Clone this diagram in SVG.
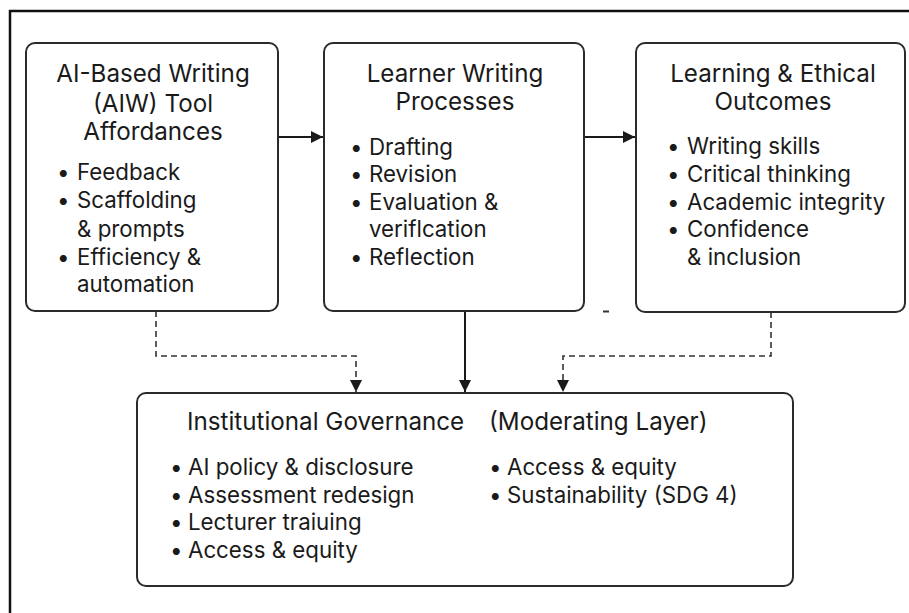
<svg xmlns="http://www.w3.org/2000/svg" width="909" height="613" viewBox="0 0 909 613">
  <defs>
    <marker id="arrow" viewBox="0 0 12 12" refX="12" refY="6" markerWidth="12" markerHeight="12" markerUnits="userSpaceOnUse" orient="auto">
      <path d="M0,0 L12,6 L0,12 Z" fill="#1a1a1a"/>
    </marker>
  </defs>
  <style>
    .frame { fill: none; stroke: #111; stroke-width: 2.5; }
    .box { fill: #fff; stroke: #2b2b2b; stroke-width: 2; }
    .title { font-family: Inter, "Liberation Sans", sans-serif; font-size: 24.2px; fill: #1a1a1a; }
    .item { font-family: Inter, "Liberation Sans", sans-serif; font-size: 22.3px; fill: #1a1a1a; }
    .mid { text-anchor: middle; }
    .solid { fill: none; stroke: #1a1a1a; stroke-width: 2; }
    .dashed { fill: none; stroke: #333; stroke-width: 1.6; stroke-dasharray: 6 4; }
  </style>
  <rect width="909" height="613" fill="#fff"/>
  <!-- outer frame, open to the right and bottom -->
  <rect class="frame" x="10" y="11" width="920" height="620"/>

  <g id="connectors">
    <line class="solid" x1="278" y1="137" x2="323" y2="137" marker-end="url(#arrow)"/>
    <line class="solid" x1="584" y1="137" x2="635" y2="137" marker-end="url(#arrow)"/>
    <line class="solid" x1="465" y1="311" x2="465" y2="392" marker-end="url(#arrow)"/>
    <path class="dashed" d="M156,311 V356 H356 V392" marker-end="url(#arrow)"/>
    <path class="dashed" d="M771,312 V356 H563 V392" marker-end="url(#arrow)"/>
    <line x1="603" y1="311.5" x2="609" y2="311.5" stroke="#333" stroke-width="2"/>
  </g>

  <g id="affordances">
    <rect class="box" x="26" y="43" width="252" height="268" rx="9"/>
    <text class="title mid" x="153" y="82">AI-Based Writing</text>
    <text class="title mid" x="153" y="112">(AIW) Tool</text>
    <text class="title mid" x="153" y="140">Affordances</text>
    <g class="item">
      <text x="57" y="180">•</text><text x="77" y="180">Feedback</text>
      <text x="57" y="208">•</text><text x="77" y="208">Scaffolding</text>
      <text x="77" y="237">&amp; prompts</text>
      <text x="57" y="265">•</text><text x="77" y="265">Efficiency &amp;</text>
      <text x="77" y="292">automation</text>
    </g>
  </g>

  <g id="processes">
    <rect class="box" x="324" y="43" width="260" height="268" rx="9"/>
    <text class="title mid" x="455" y="82">Learner Writing</text>
    <text class="title mid" x="455" y="110">Processes</text>
    <g class="item">
      <text x="350" y="155">•</text><text x="369" y="155">Drafting</text>
      <text x="350" y="182">•</text><text x="369" y="182">Revision</text>
      <text x="350" y="210">•</text><text x="369" y="210">Evaluation &amp;</text>
      <text x="369" y="237">veriflcation</text>
      <text x="350" y="265">•</text><text x="369" y="265">Reflection</text>
    </g>
  </g>

  <g id="outcomes">
    <rect class="box" x="636" y="43" width="269" height="269" rx="9"/>
    <text class="title mid" x="773" y="82">Learning &amp; Ethical</text>
    <text class="title mid" x="773" y="110">Outcomes</text>
    <g class="item">
      <text x="667" y="154">•</text><text x="687" y="154">Writing skills</text>
      <text x="667" y="182">•</text><text x="687" y="182">Critical thinking</text>
      <text x="667" y="210">•</text><text x="687" y="210">Academic integrity</text>
      <text x="667" y="237">•</text><text x="687" y="237">Confidence</text>
      <text x="687" y="265">&amp; inclusion</text>
    </g>
  </g>

  <g id="governance">
    <rect class="box" x="137" y="393" width="656" height="193" rx="9"/>
    <text class="title" x="187" y="430">Institutional Governance</text>
    <text class="title" x="489" y="430">(Moderating Layer)</text>
    <g class="item">
      <text x="170" y="475">•</text><text x="188" y="475">AI policy &amp; disclosure</text>
      <text x="170" y="503">•</text><text x="188" y="503">Assessment redesign</text>
      <text x="170" y="530">•</text><text x="188" y="530">Lecturer traiuing</text>
      <text x="170" y="558">•</text><text x="188" y="558">Access &amp; equity</text>
      <text x="489" y="475">•</text><text x="507" y="475">Access &amp; equity</text>
      <text x="489" y="503">•</text><text x="507" y="503">Sustainability (SDG 4)</text>
    </g>
  </g>
</svg>
